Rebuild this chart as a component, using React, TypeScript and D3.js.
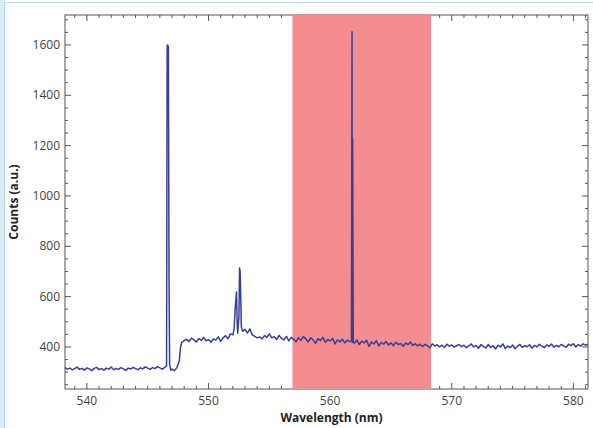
import React from 'react'
import * as d3 from 'd3'

const WIDTH = 593
const HEIGHT = 428
const margin = { top: 15, right: 5, bottom: 39, left: 65 }

// Axis ranges and ticks
const xDomain: [number, number] = [538.2, 581.2]
const yDomain: [number, number] = [233, 1719]
const xMajorTicks = [540, 550, 560, 570, 580]
const yMajorTicks = [400, 600, 800, 1000, 1200, 1400, 1600]
const xMinorStep = 1
const yMinorStep = 50

// Shaded filter band (nm)
const filterBand: [number, number] = [556.9, 568.3]

// Spectrum: [wavelength nm, counts]
const baseline: [number, number][] = [
  [538.2, 318], [538.4, 312], [538.6, 316], [538.8, 309], [539.0, 314], [539.2, 320],
  [539.4, 311], [539.6, 315], [539.8, 308], [540.0, 317], [540.2, 313], [540.4, 306],
  [540.6, 315], [540.8, 319], [541.0, 310], [541.2, 314], [541.4, 308], [541.6, 316],
  [541.8, 312], [542.0, 320], [542.2, 309], [542.4, 315], [542.6, 311], [542.8, 318],
  [543.0, 313], [543.2, 307], [543.4, 316], [543.6, 312], [543.8, 319], [544.0, 314],
  [544.2, 310], [544.4, 317], [544.6, 313], [544.8, 321], [545.0, 316], [545.2, 311],
  [545.4, 318], [545.6, 314], [545.8, 322], [546.0, 317], [546.2, 312], [546.4, 319],
]

const firstPeak: [number, number][] = [
  [546.55, 325], [546.6, 1600], [546.7, 1595], [546.75, 700], [546.8, 330], [546.9, 308],
  [547.0, 312], [547.2, 306], [547.4, 318], [547.6, 345], [547.7, 400], [547.8, 418],
]

const plateau: [number, number][] = [
  [548.0, 425], [548.2, 430], [548.4, 422], [548.6, 435], [548.8, 428], [549.0, 420],
  [549.2, 433], [549.4, 426], [549.6, 438], [549.8, 424], [550.0, 430], [550.2, 419],
  [550.4, 432], [550.6, 427], [550.8, 440], [551.0, 422], [551.2, 436], [551.4, 445],
  [551.6, 433], [551.8, 452], [552.0, 448], [552.1, 470], [552.2, 560], [552.3, 618],
  [552.35, 500], [552.4, 455], [552.5, 520], [552.55, 714], [552.6, 700], [552.7, 480],
  [552.8, 462], [553.0, 470], [553.2, 455], [553.4, 472], [553.6, 448], [553.8, 442],
  [554.0, 436], [554.2, 440], [554.4, 432], [554.6, 445], [554.8, 438], [555.0, 452],
  [555.2, 436], [555.4, 441], [555.6, 430], [555.8, 446], [556.0, 435], [556.2, 428],
  [556.4, 442], [556.6, 424], [556.8, 438], [557.0, 430], [557.2, 421], [557.4, 437],
  [557.6, 426], [557.8, 441], [558.0, 432], [558.2, 420], [558.4, 436], [558.6, 428],
  [558.8, 415], [559.0, 433], [559.2, 425], [559.4, 438], [559.6, 419], [559.8, 430],
  [560.0, 424], [560.2, 434], [560.4, 412], [560.6, 428], [560.8, 420], [561.0, 431],
  [561.2, 416], [561.4, 427], [561.6, 421],
]

const secondPeak: [number, number][] = [
  [561.75, 425], [561.8, 1652], [561.82, 418], [561.85, 1225], [561.9, 422],
]

const tail: [number, number][] = [
  [562.0, 414], [562.2, 428], [562.4, 410], [562.6, 423], [562.8, 416], [563.0, 427],
  [563.2, 402], [563.4, 420], [563.6, 412], [563.8, 425], [564.0, 404], [564.2, 418],
  [564.4, 411], [564.6, 422], [564.8, 408], [565.0, 417], [565.2, 405], [565.4, 419],
  [565.6, 410], [565.8, 414], [566.0, 403], [566.2, 416], [566.4, 409], [566.6, 420],
  [566.8, 406], [567.0, 413], [567.2, 404], [567.4, 411], [567.6, 402], [567.8, 410],
  [568.0, 405], [568.2, 396], [568.4, 412], [568.6, 404], [568.8, 409], [569.0, 400],
  [569.2, 407], [569.4, 398], [569.6, 411], [569.8, 403], [570.0, 408], [570.2, 399],
  [570.4, 405], [570.6, 410], [570.8, 401], [571.0, 407], [571.2, 397], [571.4, 404],
  [571.6, 412], [571.8, 400], [572.0, 406], [572.2, 395], [572.4, 409], [572.6, 402],
  [572.8, 396], [573.0, 410], [573.2, 398], [573.4, 405], [573.6, 392], [573.8, 407],
  [574.0, 400], [574.2, 412], [574.4, 394], [574.6, 404], [574.8, 397], [575.0, 408],
  [575.2, 393], [575.4, 403], [575.6, 410], [575.8, 398], [576.0, 405], [576.2, 401],
  [576.4, 409], [576.6, 395], [576.8, 406], [577.0, 400], [577.2, 411], [577.4, 403],
  [577.6, 397], [577.8, 408], [578.0, 402], [578.2, 412], [578.4, 399], [578.6, 406],
  [578.8, 401], [579.0, 410], [579.2, 404], [579.4, 398], [579.6, 411], [579.8, 405],
  [580.0, 413], [580.2, 400], [580.4, 409], [580.6, 404], [580.8, 412], [581.0, 407],
  [581.2, 410],
]

const COLORS = {
  line: '#383f98',
  band: '#f38d8f',
  axis: '#555555',
  text: '#444444',
  frame: '#a9dcee',
  frameFill: '#dcecf6',
}

export default function App() {
  const innerW = WIDTH - margin.left - margin.right
  const innerH = HEIGHT - margin.top - margin.bottom

  const x = d3.scaleLinear().domain(xDomain).range([0, innerW])
  const y = d3.scaleLinear().domain(yDomain).range([innerH, 0])

  const spectrum = [...baseline, ...firstPeak, ...plateau, ...secondPeak, ...tail]
  const line = d3.line<[number, number]>()
    .x(d => x(d[0]))
    .y(d => y(d[1]))

  const xMinor = d3.range(Math.ceil(xDomain[0]), xDomain[1], xMinorStep)
    .filter(v => !xMajorTicks.includes(v))
  const yMinor = d3.range(250, yDomain[1], yMinorStep)
    .filter(v => !yMajorTicks.includes(v))

  const major = 6
  const minor = 3

  return (
    <svg width={WIDTH} height={HEIGHT}
      style={{ position: 'absolute', left: 0, top: 0, background: '#fff', fontFamily: '"Open Sans", Arial, sans-serif' }}>
      {/* outer frame */}
      <rect x={0} y={0} width={5} height={HEIGHT} fill={COLORS.frameFill} />
      <rect x={4.5} y={2.5} width={WIDTH} height={HEIGHT} fill="#fff" stroke={COLORS.frame} strokeWidth={1} />

      <g transform={`translate(${margin.left},${margin.top})`}>
        <rect x={0} y={0} width={innerW} height={innerH} fill="none" stroke={COLORS.axis} strokeWidth={1} />

        {/* x ticks, bottom and top, pointing inward */}
        {xMajorTicks.map(v => (
          <g key={`xM${v}`} stroke={COLORS.axis}>
            <line x1={x(v)} x2={x(v)} y1={innerH} y2={innerH - major} />
            <line x1={x(v)} x2={x(v)} y1={0} y2={major} />
          </g>
        ))}
        {xMinor.map(v => (
          <g key={`xm${v}`} stroke={COLORS.axis}>
            <line x1={x(v)} x2={x(v)} y1={innerH} y2={innerH - minor} />
            <line x1={x(v)} x2={x(v)} y1={0} y2={minor} />
          </g>
        ))}
        {/* y ticks, left and right */}
        {yMajorTicks.map(v => (
          <g key={`yM${v}`} stroke={COLORS.axis}>
            <line x1={0} x2={major} y1={y(v)} y2={y(v)} />
            <line x1={innerW} x2={innerW - major} y1={y(v)} y2={y(v)} />
          </g>
        ))}
        {yMinor.map(v => (
          <g key={`ym${v}`} stroke={COLORS.axis}>
            <line x1={0} x2={minor} y1={y(v)} y2={y(v)} />
            <line x1={innerW} x2={innerW - minor} y1={y(v)} y2={y(v)} />
          </g>
        ))}

        {/* filter band */}
        <rect x={x(filterBand[0])} y={0} width={x(filterBand[1]) - x(filterBand[0])} height={innerH}
          fill={COLORS.band} />

        <path d={line(spectrum) ?? ''} fill="none" stroke={COLORS.line} strokeWidth={1.5}
          strokeLinejoin="round" />

        {/* tick labels */}
        {xMajorTicks.map(v => (
          <text key={`xl${v}`} x={x(v)} y={innerH + 16} textAnchor="middle" fontSize={12} fill={COLORS.text}>
            {v}
          </text>
        ))}
        {yMajorTicks.map(v => (
          <text key={`yl${v}`} x={-5} y={y(v) + 4} textAnchor="end" fontSize={12} fill={COLORS.text}>
            {v}
          </text>
        ))}

        <text x={innerW / 2 + 5} y={innerH + 33} textAnchor="middle" fontSize={12} fontWeight="bold" fill="#222">
          Wavelength (nm)
        </text>
        <text transform={`translate(${-47},${innerH / 2}) rotate(-90)`} textAnchor="middle" fontSize={12}
          fontWeight="bold" fill="#222">
          Counts (a.u.)
        </text>
      </g>
    </svg>
  )
}
